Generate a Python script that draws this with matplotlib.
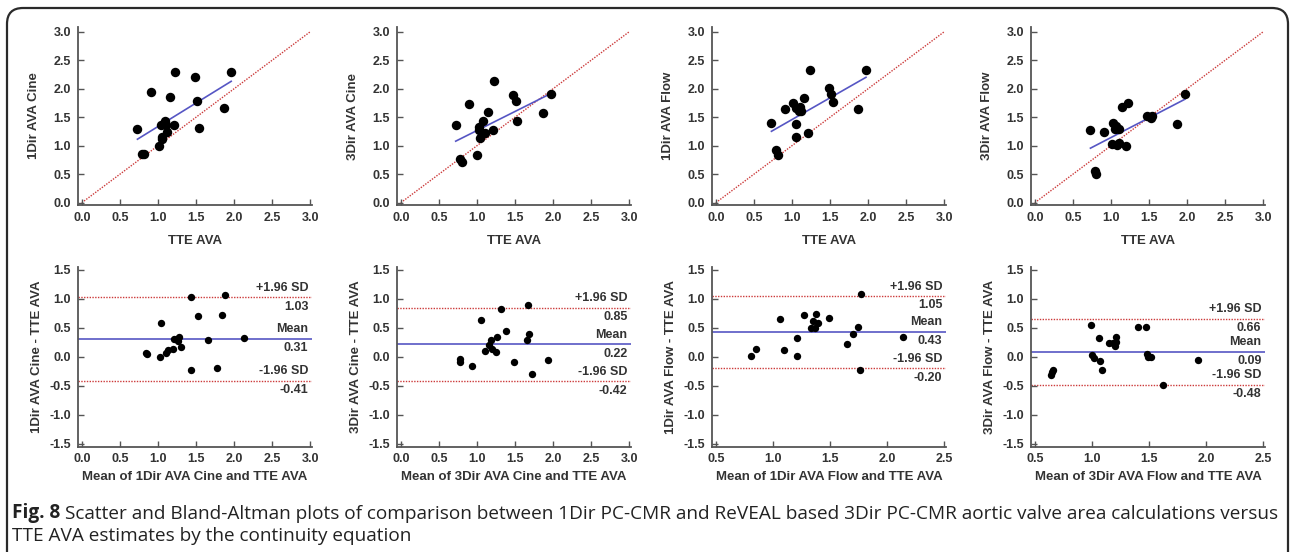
import matplotlib
matplotlib.use("Agg")
import matplotlib.pyplot as plt
import numpy as np
from matplotlib.patches import FancyBboxPatch
from matplotlib.transforms import IdentityTransform

plt.rcParams['font.family'] = ['Liberation Sans', 'DejaVu Sans']
plt.rcParams['axes.unicode_minus'] = False

# ---------------- data ----------------
scatter_xlabel = "TTE AVA"
scatter_ylabels = ["1Dir AVA Cine", "3Dir AVA Cine", "1Dir AVA Flow", "3Dir AVA Flow"]

tte_1c = [0.73, 0.79, 0.82, 0.91, 1.01, 1.04, 1.05, 1.05, 1.09, 1.11, 1.12, 1.16, 1.21, 1.22, 1.48, 1.51, 1.54, 1.87, 1.96]
cmr_1c = [1.30, 0.85, 0.85, 1.94, 1.00, 1.36, 1.16, 1.11, 1.43, 1.37, 1.24, 1.85, 1.36, 2.30, 2.21, 1.79, 1.31, 1.66, 2.30]

tte_3c = [0.72, 0.78, 0.80, 0.90, 1.00, 1.03, 1.03, 1.04, 1.08, 1.11, 1.15, 1.21, 1.22, 1.47, 1.51, 1.53, 1.87, 1.97]
cmr_3c = [1.36, 0.76, 0.71, 1.73, 0.84, 1.33, 1.28, 1.14, 1.43, 1.23, 1.59, 1.28, 2.13, 1.88, 1.79, 1.44, 1.57, 1.91]

tte_1f = [0.73, 0.79, 0.81, 0.91, 1.01, 1.05, 1.05, 1.05, 1.09, 1.11, 1.12, 1.16, 1.21, 1.23, 1.48, 1.51, 1.54, 1.87, 1.97]
cmr_1f = [1.39, 0.92, 0.83, 1.64, 1.75, 1.66, 1.38, 1.16, 1.60, 1.68, 1.61, 1.83, 1.22, 2.32, 2.01, 1.90, 1.76, 1.65, 2.33]

tte_3f = [0.73, 0.79, 0.80, 0.91, 1.01, 1.03, 1.05, 1.07, 1.08, 1.10, 1.11, 1.15, 1.20, 1.22, 1.47, 1.52, 1.54, 1.87, 1.97]
cmr_3f = [1.28, 0.56, 0.50, 1.24, 1.03, 1.39, 1.29, 1.35, 1.02, 1.30, 1.04, 1.67, 0.99, 1.74, 1.52, 1.48, 1.52, 1.38, 1.90]

# regression lines (intercept, slope)
fit_intercepts = [0.511, 0.597, 0.695, 0.451]
fit_slopes = [0.825, 0.669, 0.763, 0.692]

ba_ylabels = ["1Dir AVA Cine - TTE AVA", "3Dir AVA Cine - TTE AVA",
              "1Dir AVA Flow - TTE AVA", "3Dir AVA Flow - TTE AVA"]
ba_xlabels = ["Mean of 1Dir AVA Cine and TTE AVA", "Mean of 3Dir AVA Cine and TTE AVA",
              "Mean of 1Dir AVA Flow and TTE AVA", "Mean of 3Dir AVA Flow and TTE AVA"]

bam_1c = [0.84, 0.85, 1.02, 1.04, 1.10, 1.13, 1.20, 1.21, 1.25, 1.26, 1.27, 1.30, 1.43, 1.43, 1.52, 1.65, 1.77, 1.84, 1.88, 2.13]
bad_1c = [0.07, 0.05, 0.00, 0.58, 0.07, 0.11, 0.13, 0.31, 0.30, 0.27, 0.35, 0.17, -0.22, 1.03, 0.70, 0.29, -0.20, 0.73, 1.07, 0.33]

bam_3c = [0.77, 0.78, 0.93, 1.05, 1.10, 1.16, 1.18, 1.19, 1.25, 1.26, 1.32, 1.38, 1.49, 1.65, 1.67, 1.68, 1.72, 1.93]
bad_3c = [-0.09, -0.03, -0.16, 0.63, 0.10, 0.21, 0.29, 0.14, 0.08, 0.34, 0.83, 0.44, -0.09, 0.29, 0.90, 0.40, -0.29, -0.05]

bam_1f = [0.81, 0.85, 1.06, 1.10, 1.21, 1.21, 1.27, 1.33, 1.35, 1.37, 1.38, 1.39, 1.49, 1.65, 1.70, 1.74, 1.76, 1.77, 2.14]
bad_1f = [0.02, 0.13, 0.66, 0.11, 0.33, 0.01, 0.73, 0.49, 0.62, 0.49, 0.74, 0.58, 0.67, 0.22, 0.39, 0.52, -0.22, 1.09, 0.35]

bam_3f = [0.64, 0.65, 0.66, 0.99, 1.00, 1.02, 1.06, 1.07, 1.09, 1.15, 1.18, 1.20, 1.21, 1.21, 1.40, 1.47, 1.48, 1.49, 1.52, 1.62, 1.93]
bad_3f = [-0.31, -0.26, -0.23, 0.55, 0.03, -0.02, 0.33, -0.08, -0.22, 0.23, 0.23, 0.19, 0.35, 0.26, 0.51, 0.52, 0.05, -0.01, -0.01, -0.48, -0.06]

ba_mean = [0.31, 0.22, 0.43, 0.09]
ba_upper = [1.03, 0.85, 1.05, 0.66]
ba_lower = [-0.41, -0.42, -0.20, -0.48]
ba_xticks = [[0.0, 0.5, 1.0, 1.5, 2.0, 2.5, 3.0], [0.0, 0.5, 1.0, 1.5, 2.0, 2.5, 3.0],
             [0.5, 1.0, 1.5, 2.0, 2.5], [0.5, 1.0, 1.5, 2.0, 2.5]]
scatter_ticks = [0.0, 0.5, 1.0, 1.5, 2.0, 2.5, 3.0]
ba_yticks = [-1.5, -1.0, -0.5, 0.0, 0.5, 1.0, 1.5]

caption_bold = "Fig. 8"
caption_line1 = ("Scatter and Bland-Altman plots of comparison between 1Dir PC-CMR and ReVEAL "
                 "based 3Dir PC-CMR aortic valve area calculations versus")
caption_line2 = "TTE AVA estimates by the continuity equation"

scatter_x = [tte_1c, tte_3c, tte_1f, tte_3f]
scatter_y = [cmr_1c, cmr_3c, cmr_1f, cmr_3f]
ba_x = [bam_1c, bam_3c, bam_1f, bam_3f]
ba_y = [bad_1c, bad_3c, bad_1f, bad_3f]

# ---------------- layout ----------------
W, H = 1290, 552
fig = plt.figure(figsize=(W / 100, H / 100), dpi=100)
fig.patch.set_facecolor('white')

BLUE = '#5656c4'
RED = '#cc3a3a'
AX = '#555555'
TXT = '#333333'
TICK_FS = 9
LAB_FS = 9.5


def px_axes(left, top, width, height):
    return fig.add_axes([left / W, 1 - (top + height) / H, width / W, height / H])


def style(ax, xt, yt):
    for s in ['top', 'right']:
        ax.spines[s].set_visible(False)
    for s in ['left', 'bottom']:
        ax.spines[s].set_color(AX)
        ax.spines[s].set_linewidth(1.3)
    ax.set_xticks(xt)
    ax.set_yticks(yt)
    ax.set_xticklabels([f"{t:.1f}" for t in xt], fontsize=TICK_FS, fontweight='bold', color=TXT)
    ax.set_yticklabels([f"{t:.1f}" for t in yt], fontsize=TICK_FS, fontweight='bold', color=TXT)
    ax.tick_params(direction='in', length=4, width=1, color=AX)
    ax.tick_params(axis='x', pad=5)
    ax.tick_params(axis='y', pad=5)
    ax.patch.set_alpha(0)


lefts = [78, 397, 712, 1031]
AXW = 234

for i in range(4):
    # scatter plot
    ax = px_axes(lefts[i], 27, AXW, 178)
    style(ax, scatter_ticks, scatter_ticks)
    ax.set_xlim(-0.05, 3.02)
    ax.set_ylim(-0.04, 3.08)
    ax.plot([0, 3], [0, 3], color=RED, lw=1.0, ls=(0, (1, 1)), zorder=1)
    xs = np.array(scatter_x[i])
    xr = np.array([xs.min(), xs.max()])
    ax.plot(xr, fit_intercepts[i] + fit_slopes[i] * xr, color=BLUE, lw=1.2, zorder=2)
    ax.plot(scatter_x[i], scatter_y[i], 'o', color='black', ms=6.8, mew=0, zorder=3)
    ax.set_xlabel(scatter_xlabel, fontsize=LAB_FS, fontweight='bold', color=TXT, va='center')
    ax.xaxis.set_label_coords(0.5, -36 / 178)
    ax.set_ylabel(scatter_ylabels[i], fontsize=LAB_FS, fontweight='bold', color=TXT, va='center')
    ax.yaxis.set_label_coords(-44 / AXW, 0.5)

    # Bland-Altman plot
    bx = px_axes(lefts[i], 266.5, AXW, 180)
    xt = ba_xticks[i]
    style(bx, xt, ba_yticks)
    span = xt[-1] - xt[0]
    bx.set_xlim(xt[0] - 0.05 * span / 3, xt[-1] + 0.02 * span / 3)
    bx.set_ylim(-1.55, 1.56)
    bx.axhline(ba_upper[i], color=RED, lw=1.0, ls=(0, (1, 1)), zorder=1)
    bx.axhline(ba_lower[i], color=RED, lw=1.0, ls=(0, (1, 1)), zorder=1)
    bx.axhline(ba_mean[i], color=BLUE, lw=1.2, zorder=2)
    bx.plot(ba_x[i], ba_y[i], 'o', color='black', ms=5.3, mew=0, zorder=3)
    tr = bx.get_yaxis_transform()
    for val, lab in [(ba_upper[i], "+1.96 SD"), (ba_mean[i], "Mean"), (ba_lower[i], "-1.96 SD")]:
        bx.annotate(lab, xy=(0.985, val), xycoords=tr, xytext=(0, 2.5),
                    textcoords='offset points', ha='right', va='bottom',
                    fontsize=TICK_FS, fontweight='bold', color=TXT)
        bx.annotate(f"{val:.2f}", xy=(0.985, val), xycoords=tr, xytext=(0, -2.5),
                    textcoords='offset points', ha='right', va='top',
                    fontsize=TICK_FS, fontweight='bold', color=TXT)
    bx.set_xlabel(ba_xlabels[i], fontsize=LAB_FS, fontweight='bold', color=TXT, va='center')
    bx.xaxis.set_label_coords(0.5, -30 / 180)
    bx.set_ylabel(ba_ylabels[i], fontsize=LAB_FS, fontweight='bold', color=TXT, va='center')
    bx.yaxis.set_label_coords(-41 / AXW, 0.5)

# frame around the figure
frame = FancyBboxPatch((7, -30), 1281, H - 8 + 30,
                       boxstyle="round,pad=0,rounding_size=16",
                       transform=IdentityTransform(), fill=False,
                       edgecolor='#2a2a2a', linewidth=1.6)
fig.patches.append(frame)

# caption
cap_font = ['Open Sans', 'DejaVu Sans']
CAP_FS = 13.65
t1 = fig.text(12 / W, 1 - 518 / H, caption_bold, fontsize=CAP_FS, fontweight='bold',
              family=cap_font, color='#222222', va='baseline', ha='left')
plt.annotate(caption_line1, xy=(1, 0), xycoords=t1, xytext=(3.5, 0),
             textcoords='offset points', ha='left', va='bottom',
             fontsize=CAP_FS, fontweight='normal', family=cap_font, color='#222222',
             annotation_clip=False)
fig.text(12 / W, 1 - 541 / H, caption_line2, fontsize=CAP_FS, fontweight='normal',
         family=cap_font, color='#222222', va='baseline', ha='left')

fig.savefig("out.png", dpi=100, facecolor='white')
